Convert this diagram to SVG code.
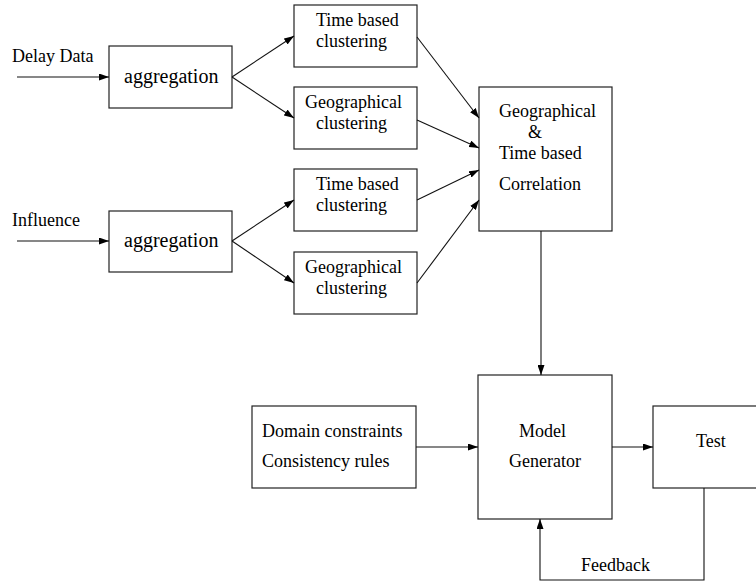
<svg xmlns="http://www.w3.org/2000/svg" width="756" height="582" viewBox="0 0 756 582">
<defs>
<marker id="arr" viewBox="0 0 10 7" refX="10" refY="3.5" markerWidth="10" markerHeight="7" markerUnits="userSpaceOnUse" orient="auto">
<path d="M0,0 L10,3.5 L0,7 z" fill="#000"/>
</marker>
<style>
rect{fill:#fff;stroke:#222;stroke-width:1.2}
text{font-family:"Liberation Serif","Times New Roman",serif;font-size:18px;fill:#000}
.big{font-size:20px}
#connectors line,#connectors polyline{stroke:#111;stroke-width:1.1;fill:none}
.a{marker-end:url(#arr)}
</style>
</defs>
<rect x="0" y="0" width="756" height="582" style="fill:#fff;stroke:none"/>
<g id="labels">
<text x="12" y="62">Delay Data</text>
<text x="12" y="226">Influence</text>
<text x="581" y="571">Feedback</text>
</g>
<g id="agg1"><rect x="109" y="46" width="123" height="62"/><text class="big" x="124" y="83">aggregation</text></g>
<g id="agg2"><rect x="109" y="211" width="123" height="61"/><text class="big" x="124" y="247">aggregation</text></g>
<g id="c1"><rect x="294" y="5" width="123" height="62"/><text x="316" y="26">Time based</text><text x="316" y="47">clustering</text></g>
<g id="c2"><rect x="294" y="87" width="123" height="62"/><text x="305" y="108">Geographical</text><text x="316" y="129">clustering</text></g>
<g id="c3"><rect x="294" y="169" width="123" height="62"/><text x="316" y="190">Time based</text><text x="316" y="211">clustering</text></g>
<g id="c4"><rect x="294" y="252" width="123" height="62"/><text x="305" y="273">Geographical</text><text x="316" y="294">clustering</text></g>
<g id="corr"><rect x="479" y="87" width="133" height="144"/><text x="499" y="117">Geographical</text><text x="528" y="138">&amp;</text><text x="499" y="159">Time based</text><text x="499" y="190">Correlation</text></g>
<g id="domain"><rect x="252" y="406" width="164" height="82"/><text x="262" y="437">Domain constraints</text><text x="262" y="467">Consistency rules</text></g>
<g id="model"><rect x="478" y="375" width="134" height="144"/><text x="519" y="437">Model</text><text x="509" y="467">Generator</text></g>
<g id="test"><rect x="653" y="406" width="110" height="82"/><text x="696" y="447">Test</text></g>
<g id="connectors">
<line class="a" x1="17" y1="77" x2="109" y2="77"/>
<line class="a" x1="17" y1="241" x2="109" y2="241"/>
<line class="a" x1="232" y1="77" x2="294" y2="36"/>
<line class="a" x1="232" y1="77" x2="294" y2="118"/>
<line class="a" x1="232" y1="241" x2="294" y2="200"/>
<line class="a" x1="232" y1="241" x2="294" y2="283"/>
<line class="a" x1="417" y1="37" x2="479" y2="118"/>
<line class="a" x1="417" y1="120" x2="479" y2="148"/>
<line class="a" x1="417" y1="200" x2="479" y2="170"/>
<line class="a" x1="417" y1="283" x2="479" y2="200"/>
<line class="a" x1="541" y1="231" x2="541" y2="375"/>
<line class="a" x1="416" y1="447" x2="478" y2="447"/>
<line class="a" x1="612" y1="447" x2="653" y2="447"/>
<polyline class="a" points="704,488 704,580 540,580 540,519"/>
</g>
</svg>
